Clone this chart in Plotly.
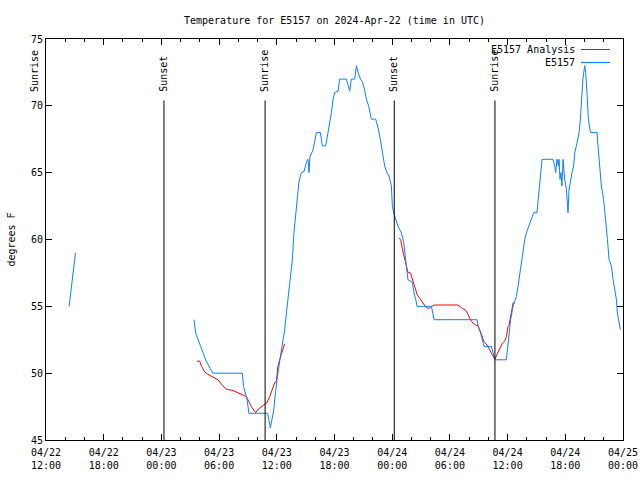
import plotly.graph_objects as go
import pandas as pd

# ---------------- data ----------------
obs_times = [
    "2024-04-22 14:24", "2024-04-22 14:29", "2024-04-22 14:34", "2024-04-22 14:39",
    "2024-04-22 14:44", "2024-04-22 14:49", "2024-04-22 14:54", "2024-04-22 14:59",
    "2024-04-22 15:04", None,
    "2024-04-23 03:23", "2024-04-23 03:34", "2024-04-23 04:05", "2024-04-23 04:36",
    "2024-04-23 05:20", "2024-04-23 08:25", "2024-04-23 08:33", "2024-04-23 08:46",
    "2024-04-23 08:55", "2024-04-23 09:06", "2024-04-23 11:03", "2024-04-23 11:20",
    "2024-04-23 11:26", "2024-04-23 11:32", "2024-04-23 11:41", "2024-04-23 11:47",
    "2024-04-23 11:53", "2024-04-23 12:01", "2024-04-23 12:10", "2024-04-23 12:18",
    "2024-04-23 12:29", "2024-04-23 12:39", "2024-04-23 12:49", "2024-04-23 13:00",
    "2024-04-23 13:14", "2024-04-23 13:27", "2024-04-23 13:37", "2024-04-23 13:47",
    "2024-04-23 13:58", "2024-04-23 14:08", "2024-04-23 14:18", "2024-04-23 14:33",
    "2024-04-23 14:50", "2024-04-23 15:05", "2024-04-23 15:15", "2024-04-23 15:21",
    "2024-04-23 15:27", "2024-04-23 15:46", "2024-04-23 15:56", "2024-04-23 16:07",
    "2024-04-23 16:32", "2024-04-23 16:44", "2024-04-23 17:05", "2024-04-23 17:16",
    "2024-04-23 17:26", "2024-04-23 17:41", "2024-04-23 17:51", "2024-04-23 18:01",
    "2024-04-23 18:22", "2024-04-23 18:32", "2024-04-23 19:14", "2024-04-23 19:24",
    "2024-04-23 19:35", "2024-04-23 19:45", "2024-04-23 20:06", "2024-04-23 20:17",
    "2024-04-23 20:27", "2024-04-23 20:42", "2024-04-23 20:54", "2024-04-23 21:08",
    "2024-04-23 21:19", "2024-04-23 21:33", "2024-04-23 21:50", "2024-04-23 22:17",
    "2024-04-23 22:31", "2024-04-23 22:46", "2024-04-23 23:03", "2024-04-23 23:13",
    "2024-04-23 23:27", "2024-04-23 23:40", "2024-04-23 23:55", "2024-04-24 00:01",
    "2024-04-24 00:09", "2024-04-24 00:36", "2024-04-24 00:57", "2024-04-24 01:12",
    "2024-04-24 01:24", "2024-04-24 01:35", "2024-04-24 01:38", "2024-04-24 02:06",
    "2024-04-24 02:16", "2024-04-24 02:27", "2024-04-24 02:35", "2024-04-24 04:05",
    "2024-04-24 04:21", "2024-04-24 08:49", "2024-04-24 08:55", "2024-04-24 09:12",
    "2024-04-24 09:23", "2024-04-24 09:33", "2024-04-24 10:19", "2024-04-24 10:40",
    "2024-04-24 11:52", "2024-04-24 11:59", "2024-04-24 12:09", "2024-04-24 12:19",
    "2024-04-24 12:34", "2024-04-24 12:44", "2024-04-24 12:55", "2024-04-24 13:05",
    "2024-04-24 13:16", "2024-04-24 13:26", "2024-04-24 13:36", "2024-04-24 13:47",
    "2024-04-24 13:57", "2024-04-24 14:13", "2024-04-24 14:28", "2024-04-24 14:43",
    "2024-04-24 15:03", "2024-04-24 15:14", "2024-04-24 15:25", "2024-04-24 15:35",
    "2024-04-24 15:51", "2024-04-24 16:43", "2024-04-24 16:54", "2024-04-24 17:00",
    "2024-04-24 17:08", "2024-04-24 17:17", "2024-04-24 17:21", "2024-04-24 17:27",
    "2024-04-24 17:33", "2024-04-24 17:39", "2024-04-24 17:46", "2024-04-24 17:56",
    "2024-04-24 18:07", "2024-04-24 18:13", "2024-04-24 18:17", "2024-04-24 18:23",
    "2024-04-24 18:32", "2024-04-24 18:42", "2024-04-24 18:52", "2024-04-24 18:59",
    "2024-04-24 19:09", "2024-04-24 19:26", "2024-04-24 19:34", "2024-04-24 19:42",
    "2024-04-24 19:50", "2024-04-24 20:01", "2024-04-24 20:07", "2024-04-24 20:15",
    "2024-04-24 20:24", "2024-04-24 20:37", "2024-04-24 21:18", "2024-04-24 21:24",
    "2024-04-24 21:35", "2024-04-24 21:45", "2024-04-24 21:59", "2024-04-24 22:12",
    "2024-04-24 22:23", "2024-04-24 22:33", "2024-04-24 22:48", "2024-04-24 22:58",
    "2024-04-24 23:08", "2024-04-24 23:19", "2024-04-24 23:25", "2024-04-24 23:35",
    "2024-04-24 23:44",
]
obs_temps = [
    55, 55.5, 56, 56.5, 57, 57.5, 58, 58.5, 59, None,
    54.0, 53.0, 52.0, 51.0, 50.0, 50.0, 49.0, 48.5, 48.0, 47.0, 47.0, 45.9,
    46.3, 46.75, 47.25, 48.0, 48.75, 49.5, 50.25, 51.0, 51.75, 52.5, 53.25, 54.5,
    56.0, 57.5, 58.5, 60.5, 61.7, 63.2, 64.3, 65.0, 65.1, 65.8, 66.0, 65.0,
    66.2, 66.7, 67.5, 68.0, 68.0, 67.0, 67.0, 67.7, 68.6, 69.5, 70.5, 71.0,
    71.1, 72.0, 72.0, 71.6, 71.1, 72.0, 72.0, 73.0, 72.5, 72.0, 71.8, 71.2,
    70.5, 70.0, 69.0, 69.0, 68.4, 67.5, 66.0, 65.5, 65.0, 64.75, 64.0, 62.5,
    62.0, 61.0, 60.5, 59.8, 58.5, 57.6, 57.0, 56.8, 56.0, 55.5, 55.0, 55.0,
    54.0, 54.0, 53.6, 53.0, 52.5, 52.0, 52.0, 51.0, 51.0, 51.75, 53.0, 54.0,
    55.0, 55.3, 55.75, 56.5, 57.5, 58.5, 59.0, 60.0, 60.5, 61.0, 61.5, 62.0,
    62.0, 63.5, 65.1, 66.0, 66.0, 66.0, 65.5, 65.0, 66.0, 65.5, 66.0, 64.5,
    65.0, 64.0, 66.0, 64.5, 63.75, 62.5, 62.0, 63.7, 64.5, 65.0, 65.5, 66.5,
    67.0, 68.0, 69.0, 70.5, 72.0, 73.0, 72.5, 71.0, 69.0, 68.0, 68.0, 67.0,
    65.0, 64.0, 63.0, 61.5, 60.0, 58.5, 58.0, 57.0, 56.25, 55.5, 54.5, 53.75,
    53.25,
]

ana_times = [
    "2024-04-23 03:42", "2024-04-23 03:59", "2024-04-23 04:11", "2024-04-23 04:30",
    "2024-04-23 04:45", "2024-04-23 05:12", "2024-04-23 05:53", "2024-04-23 06:24",
    "2024-04-23 06:46", "2024-04-23 07:27", "2024-04-23 07:58", "2024-04-23 08:29",
    "2024-04-23 08:50", "2024-04-23 09:21", "2024-04-23 09:48", "2024-04-23 10:13",
    "2024-04-23 10:44", "2024-04-23 10:59", "2024-04-23 11:16", "2024-04-23 11:32",
    "2024-04-23 11:47", "2024-04-23 11:57", "2024-04-23 12:07", "2024-04-23 12:18",
    "2024-04-23 12:29", "2024-04-23 12:39", "2024-04-23 12:49", None,
    "2024-04-24 00:42", "2024-04-24 00:53", "2024-04-24 01:04", "2024-04-24 01:18",
    "2024-04-24 01:29", "2024-04-24 01:38", "2024-04-24 01:54", "2024-04-24 02:06",
    "2024-04-24 02:20", "2024-04-24 02:35", "2024-04-24 02:51", "2024-04-24 03:12",
    "2024-04-24 03:33", "2024-04-24 03:50", "2024-04-24 04:05", "2024-04-24 04:25",
    "2024-04-24 06:50", "2024-04-24 07:12", "2024-04-24 07:39", "2024-04-24 07:53",
    "2024-04-24 08:08", "2024-04-24 08:24", "2024-04-24 08:41", "2024-04-24 08:55",
    "2024-04-24 09:06", "2024-04-24 09:17", "2024-04-24 09:31", "2024-04-24 09:48",
    "2024-04-24 09:58", "2024-04-24 10:19", "2024-04-24 10:40", "2024-04-24 10:54",
    "2024-04-24 11:11", "2024-04-24 11:28", "2024-04-24 11:42", "2024-04-24 11:53",
    "2024-04-24 12:03", "2024-04-24 12:09", "2024-04-24 12:34", "2024-04-24 12:44",
]
ana_temps = [
    50.9, 50.9, 50.5, 50.1, 49.95, 49.75, 49.5, 49.05, 48.8, 48.7, 48.55, 48.4,
    48.25, 47.5, 47.05, 47.4, 47.7, 47.8, 48.25, 48.75, 49.3, 49.35, 50.5, 51.0,
    51.4, 51.9, 52.2, None,
    60.1, 60.0, 59.25, 58.5, 58.0, 57.55, 57.5, 57.0, 56.4, 55.9, 55.6, 55.25,
    54.9, 54.85, 55.0, 55.1, 55.1, 54.9, 54.7, 54.4, 54.0, 53.75, 53.6, 53.55,
    53.25, 52.9, 52.4, 52.1, 52.0, 51.5, 51.05, 51.4, 51.9, 52.25, 52.4, 52.75,
    53.5, 53.6, 55.25, 55.25,
]

sun_times = ["2024-04-22 10:53", "2024-04-23 00:16", "2024-04-23 10:47",
             "2024-04-24 00:13", "2024-04-24 10:41"]
sun_labels = ["Sunrise", "Sunset", "Sunrise", "Sunset", "Sunrise"]

x_start = "2024-04-22 12:00"
x_end = "2024-04-25 00:00"
y_ticks = [45, 50, 55, 60, 65, 70, 75]

series_names = ["E5157 Analysis", "E5157"]
series_colors = ["#ff0000", "#0a80ff"]

# ---------------- figure ----------------
FONT = "DejaVu Sans Mono"
fig = go.Figure()
fig.add_trace(go.Scatter(x=ana_times, y=ana_temps, mode="lines",
                         line=dict(color=series_colors[0], width=1),
                         connectgaps=False, name=series_names[0], showlegend=False))
fig.add_trace(go.Scatter(x=obs_times, y=obs_temps, mode="lines",
                         line=dict(color=series_colors[1], width=1),
                         connectgaps=False, name=series_names[1], showlegend=False))

t0 = pd.Timestamp(x_start)
t1 = pd.Timestamp(x_end)
for t, lab in zip(sun_times, sun_labels):
    ts = pd.Timestamp(t)
    frac = (ts - t0) / (t1 - t0)
    if 0 <= frac <= 1:
        fig.add_shape(type="line", xref="x", yref="y", x0=t, x1=t, y0=45, y1=70.4,
                      line=dict(color="black", width=1))
    fig.add_annotation(xref="paper", yref="y", x=frac, y=70.9, text=lab,
                       textangle=-90, showarrow=False, xanchor="center",
                       yanchor="bottom", font=dict(family=FONT, size=10, color="black"))

# custom legend (top right, text right-aligned, sample lines)
for i, (nm, col) in enumerate(zip(series_names, series_colors)):
    ypx = 49.5 + i * 13
    yp = 1 - (ypx - 39) / 401
    fig.add_annotation(xref="paper", yref="paper", x=(577 - 46) / 577, y=yp, text=nm,
                       showarrow=False, xanchor="right", yanchor="middle",
                       font=dict(family=FONT, size=10, color="black"))
    fig.add_shape(type="line", xref="paper", yref="paper",
                  x0=(581 - 46) / 577, x1=(610 - 46) / 577, y0=yp, y1=yp,
                  line=dict(color=col, width=1))

tickvals = pd.date_range(t0, t1, freq="6h")
ticktext = [d.strftime("%m/%d") + "<br>" + d.strftime("%H:%M") for d in tickvals]

fig.update_layout(
    width=640, height=480,
    margin=dict(l=46, r=17, t=39, b=40, autoexpand=False),
    paper_bgcolor="white", plot_bgcolor="white",
    font=dict(family=FONT, size=10, color="black"),
    title=dict(text="Temperature for E5157 on 2024-Apr-22 (time in UTC)",
               x=0.5, xref="paper", y=1 - 20 / 480, yanchor="middle",
               font=dict(family=FONT, size=10, color="black")),
    showlegend=False,
)
fig.update_xaxes(
    range=[x_start, x_end], tickmode="array", tickvals=list(tickvals), ticktext=ticktext,
    ticks="inside", ticklen=6, tickwidth=1, tickcolor="black",
    showline=True, linecolor="black", linewidth=1, mirror="allticks",
    showgrid=False, zeroline=False, automargin=False, ticklabelstandoff=3,
    tickfont=dict(family=FONT, size=10),
    minor=dict(ticks="inside", ticklen=3, tickwidth=1, tickcolor="black",
               dtick=2 * 3600 * 1000, showgrid=False),
)
fig.update_yaxes(
    range=[45, 75], tickmode="array", tickvals=y_ticks,
    ticks="inside", ticklen=6, tickwidth=1, tickcolor="black",
    showline=True, linecolor="black", linewidth=1, mirror="allticks",
    showgrid=False, zeroline=False, automargin=False,
    tickfont=dict(family=FONT, size=10),
    title=dict(text="degrees F", font=dict(family=FONT, size=10), standoff=13),
)

fig.write_html("out.html", config={"displayModeBar": False},
               post_script="document.body.style.margin='0px';")
